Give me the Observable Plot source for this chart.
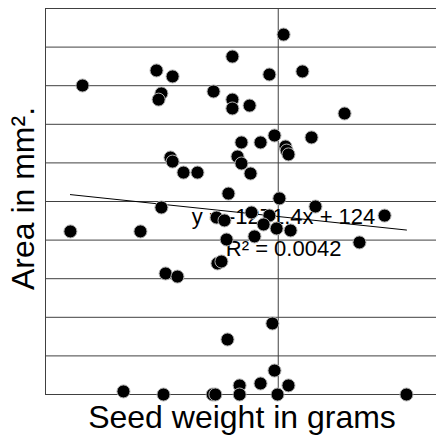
<!DOCTYPE html>
<html>
<head>
<meta charset="utf-8">
<script src="https://cdn.jsdelivr.net/npm/d3@7"></script>
<script src="https://cdn.jsdelivr.net/npm/@observablehq/plot@0.6"></script>
<style>
  html, body { margin: 0; padding: 0; background: #fff; }
  #chart svg { display: block; overflow: visible; }
</style>
</head>
<body>
<div id="chart"></div>
<script>
// Seed weight (grams) and leaf area (mm²) for each sample
const seedWeight = [
  0.02523, 0.02303, 0.02462, 0.02604, 0.01659, 0.01977, 0.02046, 0.01998, 0.01986, 0.02222,
  0.02303, 0.02303, 0.02377, 0.02785, 0.02484, 0.02643, 0.02342, 0.02424, 0.02531, 0.02536,
  0.02544, 0.02325, 0.02342, 0.02381, 0.02037, 0.02046, 0.02093, 0.02153, 0.02286, 0.02505,
  0.02660, 0.01998, 0.02957, 0.01607, 0.01908, 0.02235, 0.02269, 0.02385, 0.02462, 0.02437,
  0.02493, 0.02553, 0.02398, 0.02278, 0.02849, 0.02239, 0.02256, 0.02016, 0.02067, 0.02475,
  0.02282, 0.02484, 0.02334, 0.02424, 0.02544, 0.01835, 0.02007, 0.02218, 0.02230, 0.02334,
  0.02497, 0.03051
];
const area = [
  186.5, 175.1, 165.8, 167.4, 160.1, 167.9, 164.8, 156.0, 152.8, 157.0,
  152.8, 148.2, 149.7, 145.6, 134.2, 133.2, 130.6, 130.6, 128.5, 126.4,
  124.4, 123.3, 119.7, 114.5, 122.8, 120.7, 115.0, 115.0, 104.1, 101.6,
  97.4, 96.9, 92.7, 84.5, 84.5, 91.7, 90.2, 94.3, 92.7, 88.1,
  86.0, 85.0, 81.9, 80.3, 78.8, 67.9, 68.9, 62.7, 61.1, 36.8,
  28.5, 12.4, 4.7, 5.7, 4.7, 1.6, 0, 0, 0, 0,
  0, 0
];

// Horizontal gridline values
const yTicks = [0, 20, 40, 60, 80, 100, 120, 140, 160, 180, 200];

// Linear trendline fit
const slope = -1271.4;
const intercept = 124;
const rSquared = 0.0042;

const xDomain = [0.015, 0.0318];
const yDomain = [0, 200];
const axisCross = 0.025;

const points = seedWeight.map((w, i) => ({weight: w, area: area[i]}));
const trend = d3.extent(seedWeight).map(w => ({weight: w, area: intercept + slope * w}));
const fmt = v => (v < 0 ? "-" : "") + Math.abs(v);
const equation = `y = ${fmt(slope)}x + ${intercept}\nR² = ${rSquared.toFixed(4)}`;

const font = "'Liberation Sans', Arial, sans-serif";
const lineColor = "#404040";

const chart = Plot.plot({
  width: 436,
  height: 443,
  marginLeft: 45,
  marginRight: 0,
  marginTop: 8,
  marginBottom: 49,
  style: {fontFamily: font, background: "#fff"},
  x: {domain: xDomain, axis: null},
  y: {domain: yDomain, axis: null},
  marks: [
    Plot.ruleY(yTicks, {stroke: lineColor, strokeWidth: 1}),
    Plot.ruleX([xDomain[0]], {stroke: lineColor, strokeWidth: 1}),
    Plot.ruleX([axisCross], {stroke: lineColor, strokeWidth: 1}),
    Plot.text([equation], {
      x: () => 0.02523,
      y: () => 72,
      text: d => d,
      fontSize: 22,
      lineHeight: 1.45,
      lineAnchor: "bottom",
      textAnchor: "middle",
      fill: "#000"
    }),
    Plot.line(trend, {x: "weight", y: "area", stroke: "#000", strokeWidth: 1}),
    Plot.dot(points, {x: "weight", y: "area", r: 6.5, fill: "#000", stroke: "#b0b0b0", strokeWidth: 1}),
    Plot.text(["Seed weight in grams"], {
      frameAnchor: "bottom",
      lineAnchor: "bottom",
      textAnchor: "middle",
      dy: 33,
      dx: 1,
      fontSize: 32,
      fill: "#000"
    }),
    Plot.text(["Area in mm²."], {
      frameAnchor: "left",
      lineAnchor: "bottom",
      textAnchor: "middle",
      rotate: -90,
      dx: -12,
      dy: -3,
      fontSize: 32,
      fill: "#000"
    })
  ]
});

document.getElementById("chart").append(chart);
</script>
</body>
</html>
